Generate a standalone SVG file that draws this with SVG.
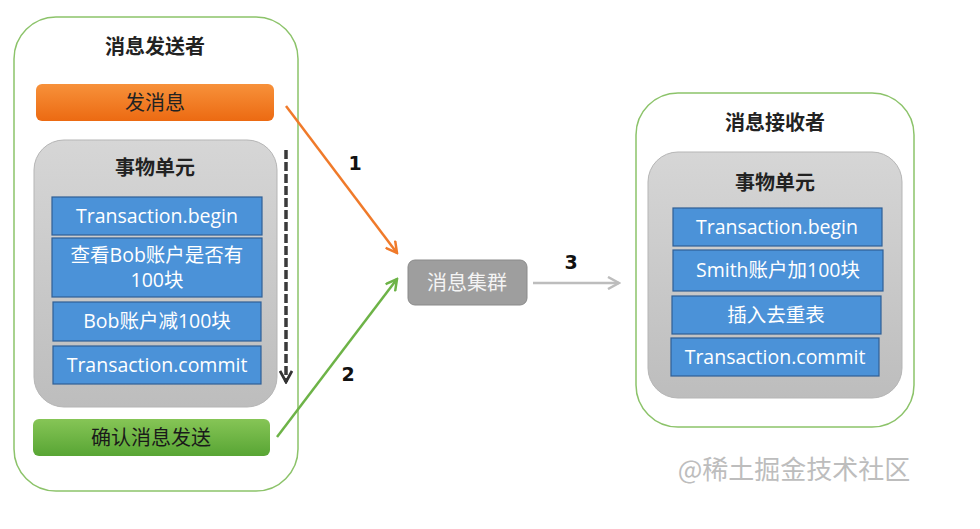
<svg xmlns="http://www.w3.org/2000/svg" width="980" height="529" viewBox="0 0 980 529">
<defs>
<style>
.outer{fill:#ffffff;stroke:#8cc36a;stroke-width:1.5}
.blue{fill:#4b92d8;stroke:#2f5f96;stroke-width:1.2}
.t{font-family:"Open Sans","Noto Sans CJK SC",sans-serif;text-anchor:middle}
.title{font-size:20px;font-weight:bold;fill:#222}
.bt{font-size:19.5px;fill:#ffffff}
.num{font-family:"DejaVu Sans",sans-serif;font-weight:bold;font-size:19px;fill:#111;text-anchor:middle}
</style>
<linearGradient id="gOrange" x1="0" y1="0" x2="0" y2="1">
<stop offset="0" stop-color="#f7913a"/>
<stop offset="1" stop-color="#ec6a12"/>
</linearGradient>
<linearGradient id="gGreen" x1="0" y1="0" x2="0" y2="1">
<stop offset="0" stop-color="#86c556"/>
<stop offset="1" stop-color="#58a534"/>
</linearGradient>
<linearGradient id="gUnit" x1="0" y1="0" x2="0" y2="1">
<stop offset="0" stop-color="#d6d6d6"/>
<stop offset="1" stop-color="#bdbdbd"/>
</linearGradient>
<marker id="mOrange" viewBox="0 0 14 14" refX="12" refY="7" markerWidth="14" markerHeight="14" markerUnits="userSpaceOnUse" orient="auto">
<path d="M1,1 L12,7 L1,13" fill="none" stroke="#f07a2a" stroke-width="2.5"/>
</marker>
<marker id="mGreen" viewBox="0 0 14 14" refX="12" refY="7" markerWidth="14" markerHeight="14" markerUnits="userSpaceOnUse" orient="auto">
<path d="M1,1 L12,7 L1,13" fill="none" stroke="#6db347" stroke-width="2.5"/>
</marker>
<marker id="mGray" viewBox="0 0 14 14" refX="12" refY="7" markerWidth="14" markerHeight="14" markerUnits="userSpaceOnUse" orient="auto">
<path d="M1,1 L12,7 L1,13" fill="none" stroke="#bdbdbd" stroke-width="2.5"/>
</marker>
<marker id="mDark" viewBox="0 0 14 14" refX="12" refY="7" markerWidth="14" markerHeight="14" markerUnits="userSpaceOnUse" orient="auto">
<path d="M1,1 L12,7 L1,13" fill="none" stroke="#333333" stroke-width="2.8"/>
</marker>
</defs>
<rect width="980" height="529" fill="#ffffff"/>

<g id="sender">
<rect class="outer" x="14" y="17" width="284" height="474" rx="42"/>
<text class="t title" x="155" y="54">消息发送者</text>
</g>

<g id="send-msg">
<rect x="36" y="84" width="238" height="37" rx="6" fill="url(#gOrange)"/>
<text class="t" x="155" y="110" font-size="20" fill="#222">发消息</text>
</g>

<g id="sender-unit">
<rect x="34" y="140" width="243" height="267" rx="30" fill="url(#gUnit)" stroke="#b5b5b5"/>
<text class="t title" x="155" y="175">事物单元</text>
<rect class="blue" x="52" y="197" width="210" height="38"/>
<text class="t bt" x="157" y="223">Transaction.begin</text>
<rect class="blue" x="52" y="238" width="210" height="59"/>
<text class="t bt" x="157" y="262">查看Bob账户是否有</text>
<text class="t bt" x="157" y="287">100块</text>
<rect class="blue" x="53" y="302" width="208" height="39"/>
<text class="t bt" x="157" y="328">Bob账户减100块</text>
<rect class="blue" x="53" y="346" width="208" height="38"/>
<text class="t bt" x="157" y="372">Transaction.commit</text>
</g>

<g id="confirm">
<rect x="33" y="419" width="237" height="37" rx="6" fill="url(#gGreen)"/>
<text class="t" x="151" y="445" font-size="20" fill="#1a1a1a">确认消息发送</text>
</g>

<g id="cluster">
<rect x="408" y="260" width="119" height="45" rx="7" fill="#9e9e9e" stroke="#8a8a8a"/>
<text class="t" x="467" y="290" font-size="20" fill="#f4f4f4">消息集群</text>
</g>

<g id="receiver">
<rect class="outer" x="636" y="93" width="278" height="334" rx="42"/>
<text class="t title" x="775" y="130">消息接收者</text>
<rect x="648" y="152" width="254" height="246" rx="30" fill="url(#gUnit)" stroke="#b5b5b5"/>
<text class="t title" x="775" y="190">事物单元</text>
<rect class="blue" x="673" y="208" width="209" height="38"/>
<text class="t bt" x="777" y="234">Transaction.begin</text>
<rect class="blue" x="673" y="250" width="210" height="41"/>
<text class="t bt" x="778" y="277">Smith账户加100块</text>
<rect class="blue" x="672" y="296" width="209" height="38"/>
<text class="t bt" x="776" y="322">插入去重表</text>
<rect class="blue" x="671" y="338" width="208" height="38"/>
<text class="t bt" x="775" y="364">Transaction.commit</text>
</g>

<g id="connectors">
<line x1="286" y1="150" x2="286" y2="382" stroke="#3a3a3a" stroke-width="3.5" stroke-dasharray="9,3" marker-end="url(#mDark)"/>
<line x1="286" y1="106" x2="397" y2="253" stroke="#f07a2a" stroke-width="2.5" marker-end="url(#mOrange)"/>
<text class="num" x="355" y="170">1</text>
<line x1="277" y1="437" x2="397" y2="279" stroke="#6db347" stroke-width="2.5" marker-end="url(#mGreen)"/>
<text class="num" x="348" y="381">2</text>
<line x1="533" y1="283" x2="619" y2="283" stroke="#bdbdbd" stroke-width="2.5" marker-end="url(#mGray)"/>
<text class="num" x="571" y="269">3</text>
</g>

<text x="794" y="479" font-family="'Noto Sans CJK SC',sans-serif" font-size="26" fill="#bdbdbd" text-anchor="middle">@稀土掘金技术社区</text>
</svg>
